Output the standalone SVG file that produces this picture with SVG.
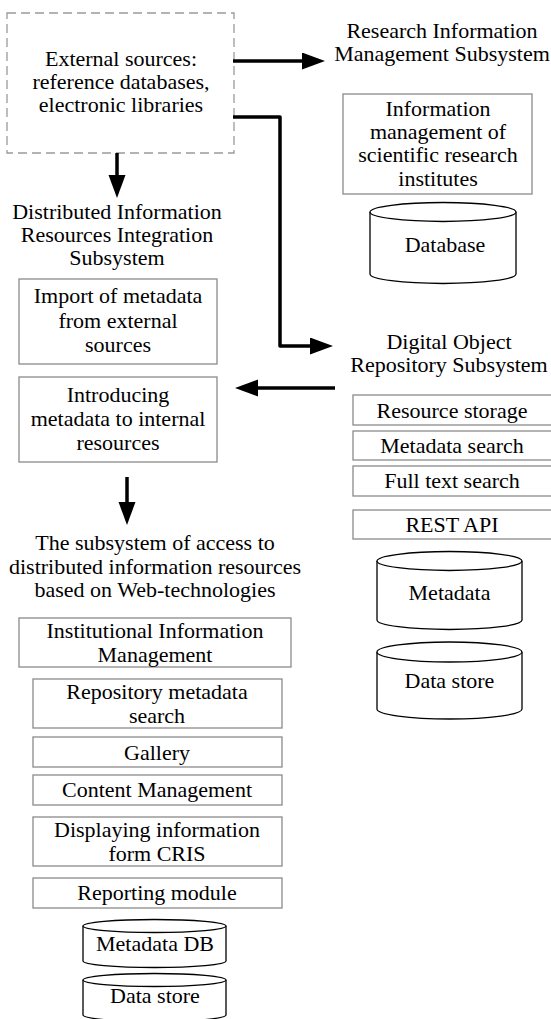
<svg xmlns="http://www.w3.org/2000/svg" width="551" height="1019" viewBox="0 0 551 1019">
<style>
text{font-family:"Liberation Serif","Times New Roman",serif;font-size:22px;fill:#000;text-anchor:middle}
.box{fill:#fff;stroke:#8a8a8a;stroke-width:1.3}
.dash{fill:#fff;stroke:#9a9a9a;stroke-width:1.3;stroke-dasharray:9 5}
.cyl{fill:#fff;stroke:#000;stroke-width:1.3}
.conn{fill:none;stroke:#000;stroke-width:3.5;stroke-linejoin:round}
</style>
<defs>
<marker id="ah" markerUnits="userSpaceOnUse" markerWidth="24" markerHeight="18" refX="2" refY="8.5" orient="auto">
<path d="M0,0 L23,8.5 L0,17 Z" fill="#000"/>
</marker>
</defs>
<rect width="551" height="1019" fill="#fff"/>

<g id="external">
<rect class="dash" x="7" y="13" width="227" height="140"/>
<text x="121" y="66">External sources:</text>
<text x="121" y="89">reference databases,</text>
<text x="121" y="112">electronic libraries</text>
</g>

<g id="rims">
<text x="442" y="38">Research Information</text>
<text x="442" y="61">Management Subsystem</text>
</g>
<g id="rims-info">
<rect class="box" x="343" y="94" width="189" height="100"/>
<text x="438" y="116">Information</text>
<text x="438" y="139">management of</text>
<text x="438" y="162">scientific research</text>
<text x="438" y="186">institutes</text>
</g>
<g id="rims-db">
<path class="cyl" d="M370,212 L370,274 A73,9.5 0 0 0 516,274 L516,212"/>
<ellipse class="cyl" cx="443" cy="212" rx="73" ry="9.5"/>
<text x="445" y="252">Database</text>
</g>

<g id="dirs">
<text x="117" y="219">Distributed Information</text>
<text x="117" y="242">Resources Integration</text>
<text x="117" y="265">Subsystem</text>
</g>
<g id="dirs-import">
<rect class="box" x="19" y="279" width="198" height="85"/>
<text x="118" y="303">Import of metadata</text>
<text x="118" y="328">from external</text>
<text x="118" y="352">sources</text>
</g>
<g id="dirs-intro">
<rect class="box" x="19" y="377" width="198" height="85"/>
<text x="118" y="402">Introducing</text>
<text x="118" y="426">metadata to internal</text>
<text x="118" y="450">resources</text>
</g>

<g id="dors">
<text x="449" y="349">Digital Object</text>
<text x="449" y="372">Repository Subsystem</text>
</g>
<g id="dors-storage">
<rect class="box" x="353" y="395" width="202" height="30"/>
<text x="452" y="418">Resource storage</text>
</g>
<g id="dors-meta">
<rect class="box" x="353" y="431" width="202" height="29"/>
<text x="452" y="453">Metadata search</text>
</g>
<g id="dors-full">
<rect class="box" x="353" y="466" width="202" height="30"/>
<text x="452" y="488">Full text search</text>
</g>
<g id="dors-rest">
<rect class="box" x="353" y="510" width="202" height="29"/>
<text x="452" y="532">REST API</text>
</g>
<g id="dors-metadata">
<path class="cyl" d="M377,561 L377,620 A72.5,9.5 0 0 0 522,620 L522,561"/>
<ellipse class="cyl" cx="449.5" cy="561" rx="72.5" ry="9.5"/>
<text x="449.5" y="600">Metadata</text>
</g>
<g id="dors-store">
<path class="cyl" d="M377,652 L377,709 A72.5,10 0 0 0 522,709 L522,652"/>
<ellipse class="cyl" cx="449.5" cy="652" rx="72.5" ry="10"/>
<text x="449.5" y="688">Data store</text>
</g>

<g id="access">
<text x="155" y="550">The subsystem of access to</text>
<text x="155" y="574">distributed information resources</text>
<text x="155" y="597">based on Web-technologies</text>
</g>
<g id="access-inst">
<rect class="box" x="19" y="618" width="272" height="49"/>
<text x="155" y="638">Institutional Information</text>
<text x="155" y="662">Management</text>
</g>
<g id="access-repo">
<rect class="box" x="33" y="679" width="249" height="49"/>
<text x="157" y="699">Repository metadata</text>
<text x="157" y="723">search</text>
</g>
<g id="access-gallery">
<rect class="box" x="33" y="737" width="249" height="30"/>
<text x="157" y="760">Gallery</text>
</g>
<g id="access-content">
<rect class="box" x="33" y="775" width="249" height="30"/>
<text x="157" y="797">Content Management</text>
</g>
<g id="access-cris">
<rect class="box" x="33" y="817" width="249" height="49"/>
<text x="157" y="837">Displaying information</text>
<text x="157" y="861">form CRIS</text>
</g>
<g id="access-report">
<rect class="box" x="33" y="878" width="249" height="30"/>
<text x="157" y="900">Reporting module</text>
</g>
<g id="access-metadb">
<path class="cyl" d="M83,926 L83,961 A71.5,6.5 0 0 0 226,961 L226,926"/>
<ellipse class="cyl" cx="154.5" cy="926" rx="71.5" ry="6.5"/>
<text x="155" y="951">Metadata DB</text>
</g>
<g id="access-store">
<path class="cyl" d="M83,980 L83,1015 A71.5,6.5 0 0 0 226,1015 L226,980"/>
<ellipse class="cyl" cx="154.5" cy="980" rx="71.5" ry="6.5"/>
<text x="155" y="1003">Data store</text>
</g>

<g id="connectors">
<path class="conn" d="M233,61 L304,61" marker-end="url(#ah)"/>
<path class="conn" d="M233,117 L280,117 L280,346 L312,346" marker-end="url(#ah)"/>
<path class="conn" d="M335,388 L256,388" marker-end="url(#ah)"/>
<path class="conn" d="M117,153 L117,177" marker-end="url(#ah)"/>
<path class="conn" d="M127,477 L127,504" marker-end="url(#ah)"/>
</g>
</svg>
